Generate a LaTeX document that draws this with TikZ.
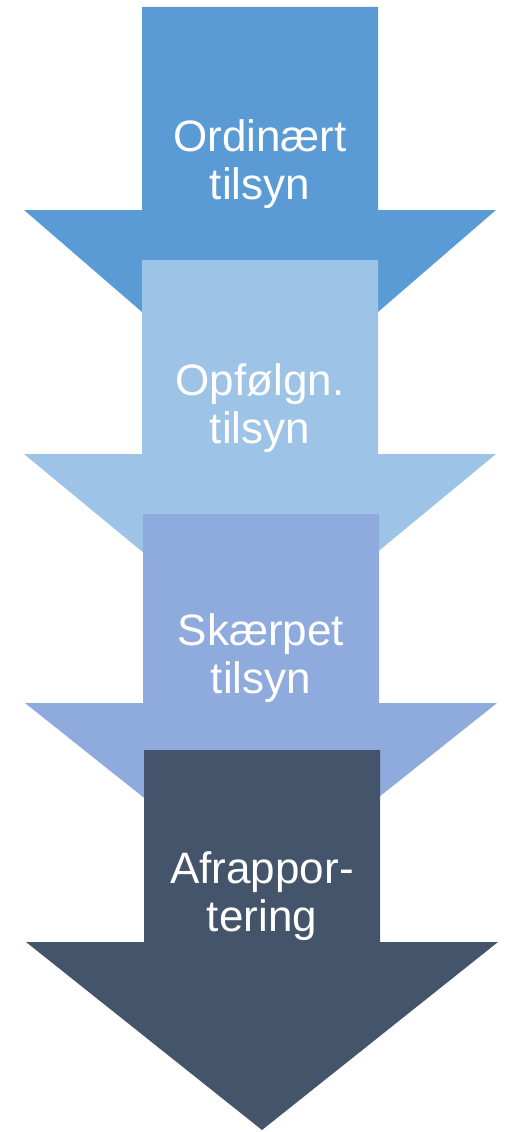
\documentclass[tikz,border=0pt]{standalone}
\usepackage{fontspec}
\setmainfont{Liberation Sans}
\usepackage{tikz}
\usetikzlibrary{positioning}
\definecolor{ordblue}{HTML}{5B9BD5}
\definecolor{opfblue}{HTML}{9DC3E6}
\definecolor{skablue}{HTML}{8FAADC}
\definecolor{afrblue}{HTML}{44546A}
\tikzset{
  stagearrow/.style={draw=none},
  stagetext/.style={text=white, font=\fontsize{44}{48}\selectfont, align=center, inner sep=0pt, anchor=base},
}

\begin{document}
\begin{tikzpicture}[x=1pt, y=-1pt]
  \useasboundingbox (0,0) rectangle (513,1132);
  % stacked down arrows: colour / centre x / top / head base / tip
  \foreach \col/\cx/\ytop/\ybase/\ytip in {ordblue/260/7/210/414, opfblue/260/260/454/649, skablue/261/514/703/891, afrblue/262/750/942/1130}
    \fill[stagearrow, \col] (\cx-118,\ytop) -- (\cx+118,\ytop) -- (\cx+118,\ybase) -- (\cx+236,\ybase)
      -- (\cx,\ytip) -- (\cx-236,\ybase) -- (\cx-118,\ybase) -- cycle;

  % anchor base sits on the second line
  \node[stagetext] (ordinaert) at (260,199) {Ordinært\\tilsyn};
  \node[stagetext] (opfoelgn) at (260,443) {Opfølgn.\\tilsyn};
  \node[stagetext] (skaerpet) at (261,693) {Skærpet\\tilsyn};
  \node[stagetext] (afrapport) at (262,931) {Afrappor-\\tering};
\end{tikzpicture}
\end{document}
